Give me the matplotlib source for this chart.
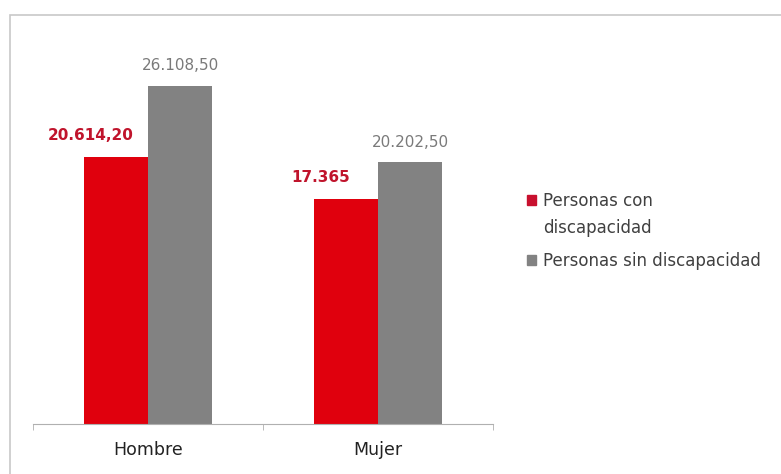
import matplotlib.pyplot as plt
from matplotlib.patches import Patch, Rectangle
from matplotlib.legend_handler import HandlerPatch
import numpy as np

# datos
categorias = ['Hombre', 'Mujer']
con_discapacidad = [20614.20, 17365]
sin_discapacidad = [26108.50, 20202.50]
etiquetas_con = ['20.614,20', '17.365']
etiquetas_sin = ['26.108,50', '20.202,50']
series = ['Personas con\ndiscapacidad', 'Personas sin discapacidad']

rojo = '#e0000d'
gris = '#828282'

plt.rcParams['font.family'] = ['DejaVu Sans']

fig = plt.figure(figsize=(7.81, 4.74), dpi=100)
ax = fig.add_axes([33/781, 50/474, 460/781, 394/474])

x = np.arange(len(categorias))
w = 0.28
ax.bar(x - w/2, con_discapacidad, w, color=rojo)
ax.bar(x + w/2, sin_discapacidad, w, color=gris)

for i in range(len(x)):
    ax.annotate(etiquetas_con[i], (x[i] - w/2, con_discapacidad[i]),
                xytext=(-18, 10), textcoords='offset points', ha='center',
                va='bottom', fontsize=11, fontweight='bold', color='#c0142c')
    ax.annotate(etiquetas_sin[i], (x[i] + w/2, sin_discapacidad[i]),
                xytext=(0, 9), textcoords='offset points', ha='center',
                va='bottom', fontsize=11, color='#7a7a7a')

ax.set_xlim(-0.5, 1.5)
ax.set_ylim(0, 30400)
for s in ['top', 'right', 'left']:
    ax.spines[s].set_visible(False)
ax.spines['bottom'].set_color('#b0b0b0')
ax.set_yticks([])
ax.set_xticks(x)
ax.set_xticklabels(categorias, fontsize=12.5, color='#222222')
ax.tick_params(axis='x', length=0, pad=12)
ax.set_xticks([-0.5, 0.5, 1.5], minor=True)
ax.tick_params(axis='x', which='minor', length=4, color='#b0b0b0')


# cuadrado alineado con la primera linea del texto
def cuadro_arriba(legend, orig_handle, xdescent, ydescent, width, height, fontsize):
    return Rectangle((-xdescent, -ydescent + 11.5), width, height)


handles = [Patch(color='#c8102e'), Patch(color=gris)]
leg = fig.legend(handles, series, loc='center left', bbox_to_anchor=(512/781, 1 - 231/474),
                 frameon=False, fontsize=12, handlelength=0.55, handleheight=0.55,
                 handletextpad=0.4, labelspacing=0.9, labelcolor='#404040',
                 handler_map={handles[0]: HandlerPatch(patch_func=cuadro_arriba)})
leg.get_texts()[0].set_linespacing(1.6)

# borde del grafico
fig.patches.append(Rectangle((10/781, -0.1), 1.2, 1 - 15/474 + 0.1,
                             transform=fig.transFigure, fill=False,
                             edgecolor='#c8c8c8', lw=1.2, clip_on=False))

fig.savefig('out.png', dpi=100)
